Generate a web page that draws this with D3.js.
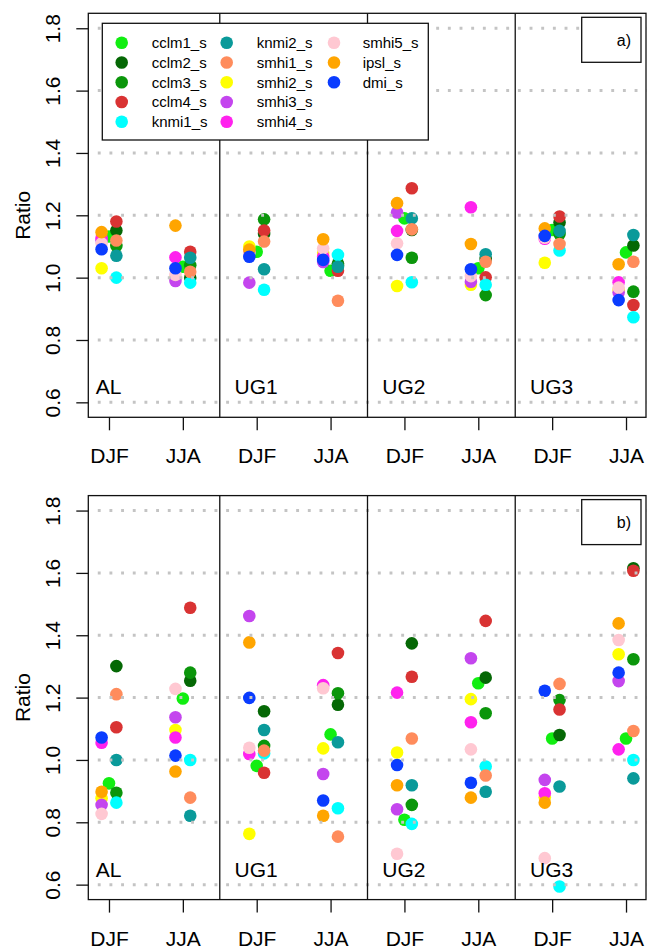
<!DOCTYPE html>
<html><head><meta charset="utf-8">
<script src="https://cdn.jsdelivr.net/npm/d3@7"></script>
<style>body{margin:0;background:#fff}svg{display:block;font-family:"Liberation Sans",Arial,Helvetica,sans-serif}</style>
</head><body>
<script>
// ---------- data ----------
const models = ["cclm1_s","cclm2_s","cclm3_s","cclm4_s","knmi1_s","knmi2_s","smhi1_s","smhi2_s","smhi3_s","smhi4_s","smhi5_s","ipsl_s","dmi_s"];
const modelColors = ["#11ee11","#056805","#0b960b","#d93333","#00ffff","#0a9a9a","#ff8c5c","#ffff00","#c445ee","#ff22ee","#ffc8d2","#ffa500","#0a3cff"];
const regions = ["AL","UG1","UG2","UG3"];
const seasons = ["DJF","JJA","DJF","JJA","DJF","JJA","DJF","JJA"];
const yTicks = [0.6,0.8,1.0,1.2,1.4,1.6,1.8];
const panelTags = ["a)","b)"];
// columns: AL-DJF, AL-JJA, UG1-DJF, UG1-JJA, UG2-DJF, UG2-JJA, UG3-DJF, UG3-JJA
const ratioA = [
  [1.132,1.035,1.083,1.022,1.190,1.030,1.153,1.081], // cclm1
  [1.151,1.000,1.140,1.045,1.153,1.060,1.177,1.103], // cclm2
  [1.102,1.040,1.187,1.040,1.064,0.944,1.140,0.955], // cclm3
  [1.180,1.083,1.151,1.022,1.287,1.001,1.196,0.912], // cclm4
  [1.000,0.984,0.961,1.073,0.985,0.977,1.087,0.873], // knmi1
  [1.070,1.064,1.027,1.035,1.190,1.075,1.150,1.137], // knmi2
  [1.119,1.019,1.116,0.926,1.155,1.051,1.108,1.051], // smhi1
  [1.030,1.000,1.100,1.080,0.973,0.977,1.048,0.960], // smhi2
  [1.120,0.989,0.984,1.050,1.209,0.987,1.130,0.952], // smhi3
  [1.128,1.065,1.083,1.067,1.150,1.226,1.125,0.985], // smhi4
  [1.110,1.009,1.080,1.094,1.110,1.005,1.128,0.968], // smhi5
  [1.146,1.167,1.090,1.123,1.239,1.108,1.158,1.043], // ipsl
  [1.091,1.030,1.067,1.057,1.073,1.027,1.134,0.928]  // dmi
];
const ratioB = [
  [0.925,1.197,0.981,1.082,0.808,1.246,1.069,1.069], // cclm1
  [1.301,1.254,1.156,1.177,1.374,1.264,1.080,1.615], // cclm2
  [0.895,1.280,1.045,1.214,0.856,1.150,1.192,1.323], // cclm3
  [1.105,1.488,0.959,1.343,1.267,1.446,1.162,1.607], // cclm4
  [0.863,1.000,1.021,0.845,0.795,0.979,0.594,1.000], // knmi1
  [1.000,0.821,1.096,1.057,0.919,0.898,0.915,0.941], // knmi2
  [1.211,0.879,1.030,0.754,1.069,0.950,1.244,1.093], // smhi1
  [0.877,1.096,0.763,1.037,1.024,1.195,0.880,1.339], // smhi2
  [0.856,1.137,1.462,0.955,0.842,1.326,0.936,1.253], // smhi3
  [1.055,1.072,1.019,1.240,1.216,1.121,0.893,1.034], // smhi4
  [0.827,1.228,1.039,1.230,0.699,1.034,0.685,1.385], // smhi5
  [0.898,0.963,1.377,0.821,0.919,0.879,0.863,1.438], // ipsl
  [1.072,1.014,1.199,0.870,0.984,0.927,1.222,1.280]  // dmi
];
const panels = [ratioA, ratioB];

// ---------- layout ----------
const W = 647, H = 946;
const svg = d3.select("body").append("svg").attr("width", W).attr("height", H);
const left = 88.3, right = 646.7;
const x = d3.scaleLinear().domain([1 - 0.28, 8 + 0.28]).range([left, right]);
const side = i => (i === 0 ? 0 : (i <= 6 ? 1 : -1));
const jit = 0.1;

panels.forEach((data, p) => {
  const dy = p * 482.3;
  const top = 13.3 + dy, bottom = 417.3 + dy;
  const y = d3.scaleLinear().domain([0.6 - 0.048, 1.8 + 0.048]).range([bottom, top]);
  const g = svg.append("g");
  const clipId = "clip" + p;
  svg.append("clipPath").attr("id", clipId).append("rect")
    .attr("x", left).attr("y", top).attr("width", right - left).attr("height", bottom - top);

  // points
  const pts = g.append("g").attr("clip-path", `url(#${clipId})`);
  data.forEach((row, mi) => {
    row.forEach((v, ci) => {
      pts.append("circle")
        .attr("cx", x(ci + 1 + side(mi) * jit))
        .attr("cy", y(v))
        .attr("r", 6.3)
        .attr("fill", modelColors[mi]);
    });
  });

  // dotted grid (drawn over points)
  const grid = g.append("g").attr("clip-path", `url(#${clipId})`);
  yTicks.forEach(t => {
    grid.append("line")
      .attr("x1", left - 2.2).attr("x2", right)
      .attr("y1", y(t)).attr("y2", y(t))
      .attr("stroke", "#c4c4c4").attr("stroke-width", 3)
      .attr("stroke-dasharray", "2.9 8.77");
  });

  // separators
  [2.5, 4.5, 6.5].forEach(s => {
    g.append("line").attr("x1", x(s)).attr("x2", x(s)).attr("y1", top).attr("y2", bottom)
      .attr("stroke", "#111").attr("stroke-width", 1.3);
  });

  // box
  g.append("rect").attr("x", left).attr("y", top).attr("width", right - left - 0.7).attr("height", bottom - top)
    .attr("fill", "none").attr("stroke", "#111").attr("stroke-width", 1.3);

  // y axis
  const ya = g.append("g").attr("transform", `translate(${left},0)`)
    .call(d3.axisLeft(y).tickValues(yTicks).tickSize(12).tickFormat(d3.format(".1f")));
  ya.select(".domain").remove();
  ya.selectAll(".tick line").attr("stroke", "#111").attr("stroke-width", 1.3);
  ya.selectAll(".tick text").attr("x", null).attr("dy", null)
    .attr("transform", "translate(-28.3,0) rotate(-90)")
    .attr("text-anchor", "middle").attr("fill", "#000")
    .style("font-size", "21px").style("font-family", '"Liberation Sans",Arial,sans-serif');

  // x axis
  const xa = g.append("g").attr("transform", `translate(0,${bottom})`)
    .call(d3.axisBottom(x).tickValues([1,2,3,4,5,6,7,8]).tickSize(13).tickFormat((d, i) => seasons[i]));
  xa.select(".domain").remove();
  xa.selectAll(".tick line").attr("stroke", "#111").attr("stroke-width", 1.3);
  xa.selectAll(".tick text").attr("y", 46).attr("dy", null).attr("fill", "#000")
    .style("font-size", "21px").style("font-family", '"Liberation Sans",Arial,sans-serif');

  // y label
  g.append("text").attr("transform", `translate(30,${(top + bottom) / 2}) rotate(-90)`)
    .attr("text-anchor", "middle").style("font-size", "21px").text("Ratio");

  // region labels
  regions.forEach((r, i) => {
    g.append("text").attr("x", x(i === 0 ? 0.82 : 0.7 + 2 * i)).attr("y", y(0.65))
      .attr("dy", "0.36em").style("font-size", "21px").text(r);
  });

  // panel tag box
  const tb = g.append("g");
  tb.append("rect").attr("x", 581.7).attr("y", 17.3 + dy).attr("width", 59.3).attr("height", 45)
    .attr("fill", "#fff").attr("stroke", "#111").attr("stroke-width", 1.3);
  tb.append("text").attr("x", 631).attr("y", 40 + dy).attr("dy", "0.36em")
    .attr("text-anchor", "end").style("font-size", "16px").text(panelTags[p]);

  // legend (panel a only)
  if (p === 0) {
    const lg = g.append("g");
    lg.append("rect").attr("x", 102.3).attr("y", 23.3).attr("width", 326).attr("height", 116.7)
      .attr("fill", "#fff").attr("stroke", "#111").attr("stroke-width", 1.3);
    const colSym = [121.7, 226.7, 334], colTxt = [151.7, 256.7, 362.7];
    models.forEach((m, i) => {
      const c = i < 5 ? 0 : (i < 10 ? 1 : 2);
      const r = i < 5 ? i : (i < 10 ? i - 5 : i - 10);
      const yy = 42.7 + r * 19.75;
      lg.append("circle").attr("cx", colSym[c]).attr("cy", yy).attr("r", 6.3).attr("fill", modelColors[i]);
      lg.append("text").attr("x", colTxt[c]).attr("y", yy).attr("dy", "0.36em")
        .style("font-size", "15px").text(m);
    });
  }
});
</script>
</body></html>
